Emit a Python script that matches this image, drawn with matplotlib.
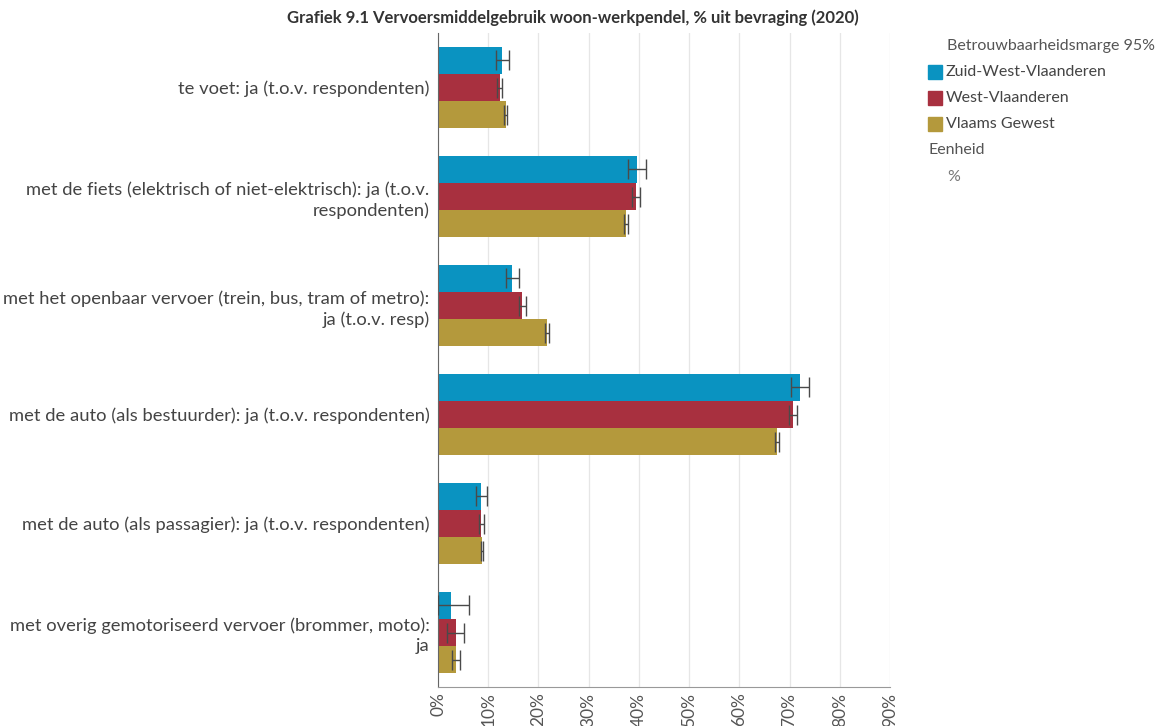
"""Grafiek 9.1 - vervoersmiddelgebruik woon-werkpendel."""
import matplotlib
matplotlib.use("Agg")
import matplotlib.pyplot as plt
from matplotlib.patches import Rectangle
import numpy as np

plt.rcParams["font.family"] = ["Lato", "DejaVu Sans"]

categories = [
    "te voet: ja (t.o.v. respondenten)",
    "met de fiets (elektrisch of niet-elektrisch): ja (t.o.v.\nrespondenten)",
    "met het openbaar vervoer (trein, bus, tram of metro):\nja (t.o.v. resp)",
    "met de auto (als bestuurder): ja (t.o.v. respondenten)",
    "met de auto (als passagier): ja (t.o.v. respondenten)",
    "met overig gemotoriseerd vervoer (brommer, moto):\nja",
]
series = ["Zuid-West-Vlaanderen", "West-Vlaanderen", "Vlaams Gewest"]
colors = ["#0a93c1", "#a8303f", "#b4993c"]

# values (%) and 95% confidence bounds per series
zwvl = [12.8, 39.6, 14.7, 72.0, 8.6, 2.5]
zwvl_lo = [11.5, 37.8, 13.5, 70.3, 7.5, 0.0]
zwvl_hi = [14.1, 41.4, 16.1, 73.8, 9.7, 6.2]

wvl = [12.3, 39.4, 16.8, 70.7, 8.6, 3.5]
wvl_lo = [11.7, 38.6, 16.1, 69.9, 8.2, 1.8]
wvl_hi = [12.8, 40.3, 17.5, 71.4, 9.1, 5.1]

vl = [13.5, 37.5, 21.8, 67.5, 8.8, 3.5]
vl_lo = [13.2, 37.1, 21.4, 67.1, 8.5, 2.7]
vl_hi = [13.7, 37.9, 22.1, 67.8, 8.9, 4.3]

xticks = [0, 10, 20, 30, 40, 50, 60, 70, 80, 90]

data = [(zwvl, zwvl_lo, zwvl_hi), (wvl, wvl_lo, wvl_hi), (vl, vl_lo, vl_hi)]

fig = plt.figure(figsize=(11.61, 7.26), dpi=100)
ax = fig.add_axes([438 / 1161, 1 - 687 / 726, 452 / 1161, (687 - 33) / 726])

y = np.arange(len(categories))
h = 0.248
for i, (vals, lo, hi) in enumerate(data):
    pos = y + (i - 1) * h
    vals = np.array(vals)
    err = [vals - np.array(lo), np.array(hi) - vals]
    ax.barh(pos, vals, height=h, color=colors[i], zorder=2)
    ax.errorbar(vals, pos, xerr=err, fmt="none", ecolor="#4a4a4a",
                elinewidth=1, capsize=7.5, capthick=1, zorder=3)

ax.set_ylim(len(categories) - 0.5, -0.5)
ax.set_xlim(0, 90)
ax.set_yticks(y)
ax.set_yticklabels(categories, fontsize=13.2, color="#444444", linespacing=1.3)
ax.set_xticks(xticks)
ax.set_xticklabels([f"{t}%" for t in xticks], rotation=90, fontsize=12.5,
                   color="#555555")
ax.tick_params(axis="y", length=0, pad=6)
ax.tick_params(axis="x", length=0, pad=4)
ax.grid(axis="x", color="#e6e6e6", linewidth=0.9, zorder=0)
ax.set_axisbelow(True)
for s in ("top", "right"):
    ax.spines[s].set_visible(False)
ax.spines["left"].set_color("#666666")
ax.spines["bottom"].set_color("#999999")

fig.text(573 / 1161, 1 - 18 / 726, "Grafiek 9.1 Vervoersmiddelgebruik woon-werkpendel, % uit bevraging (2020)",
         ha="center", va="center", fontsize=12, fontweight="bold", color="#333333")

# legend block on the right
fig.text(947 / 1161, 1 - 46 / 726, "Betrouwbaarheidsmarge 95%", fontsize=11.5,
         color="#555555", va="center")
for i, name in enumerate(series):
    yc = 72 + i * 26
    fig.patches.append(Rectangle((928 / 1161, 1 - (yc + 7) / 726), 14 / 1161, 14 / 726,
                                 transform=fig.transFigure, color=colors[i]))
    fig.text(946 / 1161, 1 - yc / 726, name, fontsize=11.5, color="#444444", va="center")
fig.text(928 / 1161, 1 - 150 / 726, "Eenheid", fontsize=11.5, color="#555555", va="center")
fig.text(947 / 1161, 1 - 177 / 726, "%", fontsize=11.5, color="#777777", va="center")

fig.savefig("out.png", dpi=100, facecolor="white")
